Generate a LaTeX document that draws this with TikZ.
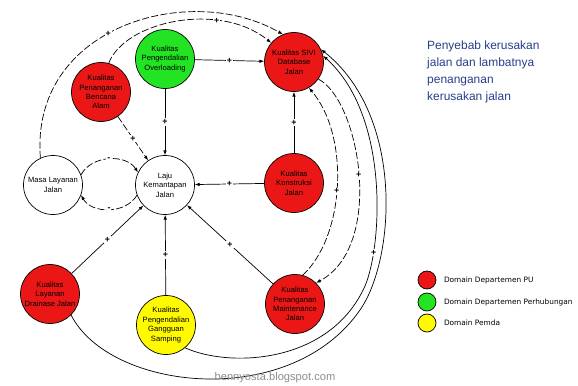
\documentclass[tikz,border=0pt]{standalone}
\usepackage{fontspec}
\setmainfont{Liberation Sans}
\newfontfamily\legendfont{DejaVu Sans}
\usetikzlibrary{arrows.meta,positioning,calc}
\definecolor{domainpu}{RGB}{235,22,22}
\definecolor{domainhub}{RGB}{34,228,34}
\definecolor{domainpemda}{RGB}{255,250,0}
\definecolor{judulblue}{RGB}{38,62,138}
\definecolor{bloggray}{RGB}{140,140,140}

\begin{document}
\begin{tikzpicture}[x=0.03cm, y=0.03cm,
  factor/.style={circle, draw, line width=0.6pt, minimum size=1.77cm, inner sep=0pt, align=center, font=\fontsize{6.5}{8}\selectfont},
  pu/.style={factor, fill=domainpu},
  hub/.style={factor, fill=domainhub},
  pemda/.style={factor, fill=domainpemda},
  swatch/.style={circle, draw, line width=0.6pt, minimum size=0.54cm, inner sep=0pt},
  link/.style={-{Latex[length=4pt,width=3pt]}, line width=0.6pt},
  dlink/.style={link, dash pattern=on 6pt off 2pt},
  sign/.style={fill=white, inner sep=0.8pt, font=\fontsize{7.5}{7.5}\selectfont\bfseries}]
  \useasboundingbox (0,0) rectangle (578,386);

  \node[hub] (overload) at (165,327) {Kualitas\\Pengendalian\\Overloading};
  \node[pu] (database) at (294,324) {Kualitas SIVI\\Database\\Jalan};
  \node[pu] (bencana) at (101,294) {Kualitas\\Penanganan\\Bencana\\Alam};
  \node[factor] (masa) at (53,201) {Masa Layanan\\Jalan};
  \node[factor] (laju) at (165,201) {Laju\\Kemantapan\\Jalan};
  \node[pu] (konstruksi) at (294,203) {Kualitas\\Konstruksi\\Jalan};
  \node[pu] (drainase) at (50,92) {Kualitas\\Layanan\\Drainase Jalan};
  \node[pemda] (samping) at (166,61) {Kualitas\\Pengendalian\\Gangguan\\Samping};
  \node[pu] (maintenance) at (295,82) {Kualitas\\Penanganan\\Maintenance\\Jalan};

  \draw[link] (overload) -- node[sign] {+} (database);
  \draw[link] (overload) -- node[sign] {+} (laju);
  \draw[dlink] (bencana) -- node[sign] {+} (laju);
  \draw[link] (konstruksi) -- node[sign] {+} (laju);
  \draw[link] (konstruksi) -- node[sign] {+} (database);
  \draw[link] (drainase) -- node[sign] {+} (laju);
  \draw[link] (samping) -- node[sign] {+} (laju);
  \draw[link] (maintenance) -- node[sign] {+} (laju);

  \draw[dlink] (masa.20) to[bend left=60] node[sign] {-} (laju.155);
  \draw[dlink] (laju.200) to[bend left=60] node[sign] {-} (masa.-20);

  \draw[dlink] (masa.115) .. controls (30,360) and (190,405) .. (database.112) node[sign, pos=0.45] {+};
  \draw[dlink] (bencana.75) .. controls (125,365) and (220,385) .. (database.140) node[sign, pos=0.7] {+};

  \draw[dlink] (maintenance.75) .. controls (345,150) and (350,250) .. (database.-60) node[sign, pos=0.47] {+};
  \draw[dlink] (database.-35) .. controls (360,285) and (385,140) .. (maintenance.45) node[sign, pos=0.5] {+};
  \draw[link] (samping.-50) .. controls (230,18) and (330,22) .. (365,100)
    .. controls (382,140) and (390,270) .. (database.12) node[sign, pos=0.2] {+};
  \draw[link] (drainase.-45) .. controls (110,-5) and (290,-25) .. (360,76)
    .. controls (395,126) and (405,270) .. (database.25);

  \node[anchor=north west, inner sep=0pt, align=left, text=judulblue, font=\fontsize{10.2}{14.5}\selectfont] (judul) at (427,345) {Penyebab kerusakan\\jalan dan lambatnya\\penanganan\\kerusakan jalan};

  \node[swatch, fill=domainpu] (sw1) at (427,106) {};
  \node[swatch, fill=domainhub] (sw2) at (427,84) {};
  \node[swatch, fill=domainpemda] (sw3) at (427,63) {};
  \node[right=3pt of sw1, font=\legendfont\fontsize{6.3}{6.3}\selectfont] (lg1) {Domain Departemen PU};
  \node[right=3pt of sw2, font=\legendfont\fontsize{6.3}{6.3}\selectfont] (lg2) {Domain Departemen Perhubungan};
  \node[right=3pt of sw3, font=\legendfont\fontsize{6.3}{6.3}\selectfont] (lg3) {Domain Pemda};

  \node[text=bloggray, font=\fontsize{9.5}{10}\selectfont] (blog) at (275,8) {bennyosta.blogspot.com};
\end{tikzpicture}
\end{document}
